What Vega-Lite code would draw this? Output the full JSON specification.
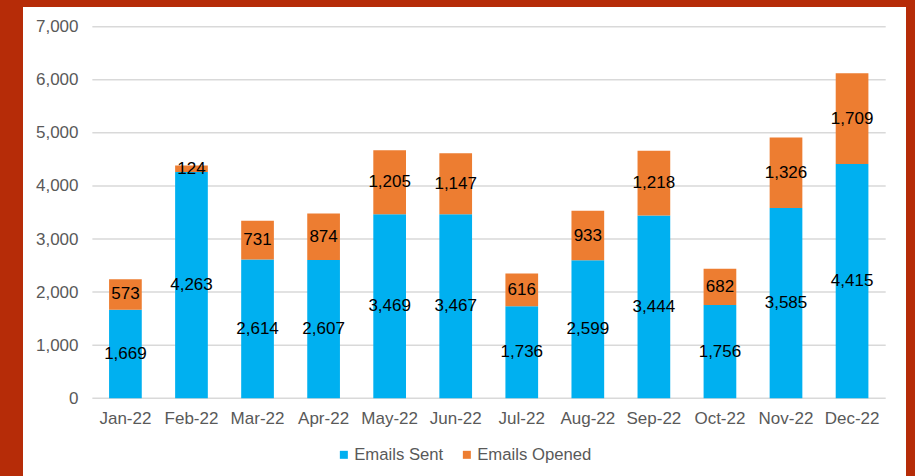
{
  "$schema": "https://vega.github.io/schema/vega-lite/v6.json",
  "width": 883,
  "height": 469,
  "autosize": {"type": "none"},
  "padding": {"left": 23, "top": 7, "right": 9, "bottom": 0},
  "background": "#B62C08",
  "config": {
    "view": {"fill": "#FFFFFF", "stroke": null},
    "font": "Liberation Sans"
  },
  "data": {
    "values": [
      {"month": "Jan-22", "series": "Emails Sent", "value": 1669},
      {"month": "Jan-22", "series": "Emails Opened", "value": 573},
      {"month": "Feb-22", "series": "Emails Sent", "value": 4263},
      {"month": "Feb-22", "series": "Emails Opened", "value": 124},
      {"month": "Mar-22", "series": "Emails Sent", "value": 2614},
      {"month": "Mar-22", "series": "Emails Opened", "value": 731},
      {"month": "Apr-22", "series": "Emails Sent", "value": 2607},
      {"month": "Apr-22", "series": "Emails Opened", "value": 874},
      {"month": "May-22", "series": "Emails Sent", "value": 3469},
      {"month": "May-22", "series": "Emails Opened", "value": 1205},
      {"month": "Jun-22", "series": "Emails Sent", "value": 3467},
      {"month": "Jun-22", "series": "Emails Opened", "value": 1147},
      {"month": "Jul-22", "series": "Emails Sent", "value": 1736},
      {"month": "Jul-22", "series": "Emails Opened", "value": 616},
      {"month": "Aug-22", "series": "Emails Sent", "value": 2599},
      {"month": "Aug-22", "series": "Emails Opened", "value": 933},
      {"month": "Sep-22", "series": "Emails Sent", "value": 3444},
      {"month": "Sep-22", "series": "Emails Opened", "value": 1218},
      {"month": "Oct-22", "series": "Emails Sent", "value": 1756},
      {"month": "Oct-22", "series": "Emails Opened", "value": 682},
      {"month": "Nov-22", "series": "Emails Sent", "value": 3585},
      {"month": "Nov-22", "series": "Emails Opened", "value": 1326},
      {"month": "Dec-22", "series": "Emails Sent", "value": 4415},
      {"month": "Dec-22", "series": "Emails Opened", "value": 1709}
    ]
  },
  "layer": [
    {
      "data": {
        "values": [
          {"tick": 0}, {"tick": 1000}, {"tick": 2000}, {"tick": 3000},
          {"tick": 4000}, {"tick": 5000}, {"tick": 6000}, {"tick": 7000}
        ]
      },
      "mark": {"type": "rule", "color": "#D9D9D9", "strokeWidth": 1.5},
      "encoding": {
        "y": {"field": "tick", "type": "quantitative", "title": null},
        "x": {"datum": "Jan-22", "type": "nominal", "bandPosition": -0.511, "title": null},
        "x2": {"datum": "Dec-22", "bandPosition": 1.529}
      }
    },
    {
      "mark": {"type": "bar"},
      "encoding": {
        "x": {
          "field": "month",
          "type": "nominal",
          "title": null,
          "scale": {
            "domain": ["Jan-22", "Feb-22", "Mar-22", "Apr-22", "May-22", "Jun-22", "Jul-22", "Aug-22", "Sep-22", "Oct-22", "Nov-22", "Dec-22"],
            "paddingInner": 0.505,
            "paddingOuter": 0.936,
            "align": 0.696,
            "round": false
          },
          "axis": {
            "labelFontSize": 17,
            "labelColor": "#595959",
            "labelFont": "Liberation Sans",
            "labelAngle": 0,
            "labelAlign": "center",
            "labelBaseline": "top",
            "domain": false,
            "ticks": false,
            "tickSize": 0,
            "labelPadding": 12,
            "offset": -77.7,
            "grid": false
          }
        },
        "y": {
          "field": "value",
          "type": "quantitative",
          "stack": "zero",
          "title": null,
          "scale": {"domain": [-1464, 7371], "nice": false, "zero": false},
          "axis": {
            "values": [0, 1000, 2000, 3000, 4000, 5000, 6000, 7000],
            "format": ",.0f",
            "formatType": "number",
            "labelFontSize": 17,
            "labelColor": "#595959",
            "labelFont": "Liberation Sans",
            "labelAlign": "right",
            "labelBaseline": "middle",
            "domain": false,
            "ticks": false,
            "tickSize": 0,
            "labelPadding": 0,
            "offset": -55,
            "grid": false
          }
        },
        "color": {
          "field": "series",
          "type": "nominal",
          "scale": {"domain": ["Emails Sent", "Emails Opened"], "range": ["#00B0F0", "#ED7D31"]},
          "legend": {
            "orient": "none",
            "legendX": 312.5,
            "legendY": 439,
            "direction": "horizontal",
            "title": null,
            "symbolType": "square",
            "symbolSize": 64,
            "symbolStrokeWidth": 0,
            "labelFontSize": 16.7,
            "labelFont": "Liberation Sans",
            "labelColor": "#595959",
            "labelOffset": 2,
            "columnPadding": 15,
            "padding": 0
          }
        },
        "order": {"field": "series", "sort": "descending"}
      }
    },
    {
      "mark": {"type": "text", "color": "#000000", "fontSize": 17, "font": "Liberation Sans", "align": "center", "baseline": "middle"},
      "encoding": {
        "x": {"field": "month", "type": "nominal", "title": null},
        "y": {"field": "value", "type": "quantitative", "stack": "zero", "bandPosition": 0.5, "title": null},
        "detail": {"field": "series"},
        "order": {"field": "series", "sort": "descending"},
        "text": {"field": "value", "type": "quantitative", "format": ","}
      }
    }
  ]
}
